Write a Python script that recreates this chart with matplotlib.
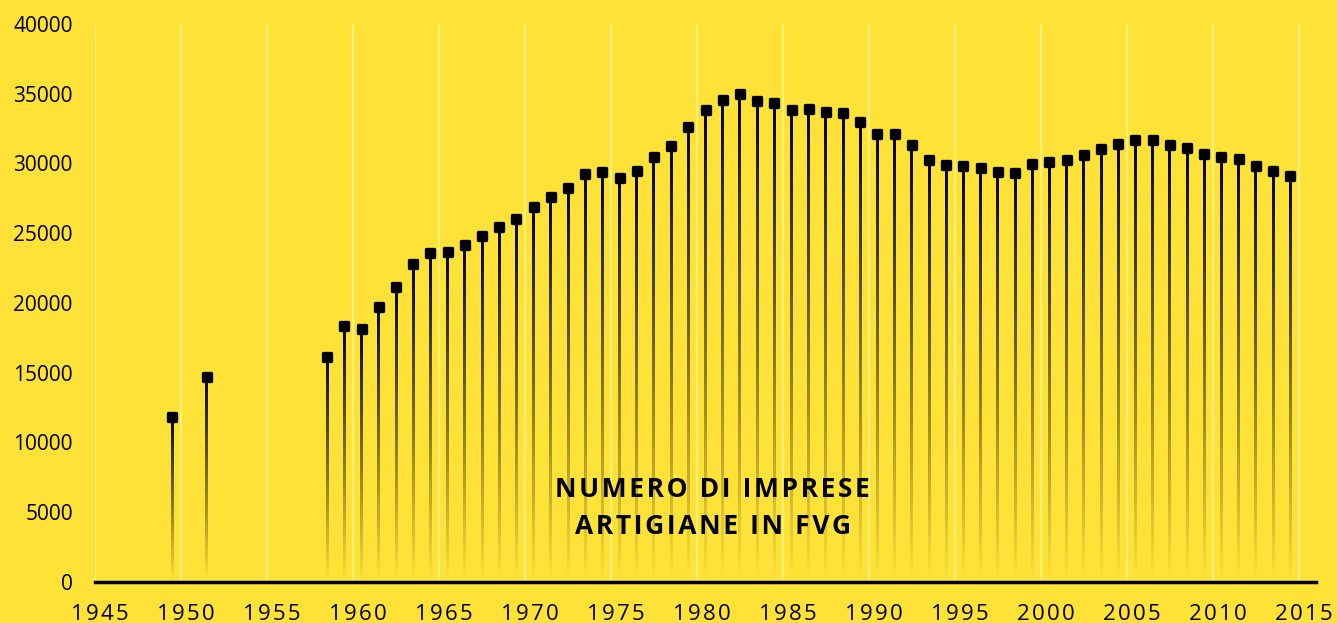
import matplotlib
matplotlib.use("Agg")
import matplotlib.pyplot as plt
from matplotlib.markers import MarkerStyle
from matplotlib.transforms import ScaledTranslation
import numpy as np

### data: artisan firms in FVG ###

years = [1949, 1951] + list(range(1958, 2015))
imprese = [11800, 14650,
           16150, 18350, 18120, 19690, 21160, 22780, 23570, 23670, 24130, 24800,
           25460, 26000, 26900, 27600, 28220, 29250, 29390, 28930, 29480, 30460,
           31250, 32590, 33830, 34570, 34980, 34460, 34310, 33810, 33900, 33690,
           33640, 32950, 32130, 32090, 31320, 30250, 29870, 29820, 29650, 29390,
           29310, 29980, 30100, 30270, 30630, 31040, 31420, 31700, 31680, 31300,
           31080, 30650, 30440, 30340, 29820, 29460, 29100]
x_ticks = list(range(1945, 2016, 5))
y_ticks = list(range(0, 40001, 5000))
title_lines = ["NUMERO DI IMPRESE", "ARTIGIANE IN FVG"]

bg = "#ffe238"
grid_col = "#fff07a"

plt.rcParams['font.family'] = ['Open Sans', 'DejaVu Sans']

def spaced(s, sp):
    # fake letter spacing
    return sp.join(s)

fig = plt.figure(figsize=(13.37, 6.23), dpi=100, facecolor=bg)
ax = fig.add_axes([0.0711, 0.0663, 0.9132, 0.8952], facecolor=bg)

# points sit in the middle of the year
xs = np.array(years) + 0.5
vals = np.array(imprese, dtype=float)

# gradient stems: black at top, fading out towards zero
grad = np.zeros((256, 1, 4))
grad[:, 0, 3] = np.linspace(0, 1, 256)
half_w = 0.085
for x, v in zip(xs, vals):
    ax.imshow(grad, extent=[x - half_w, x + half_w, 0, v], origin='lower',
              aspect='auto', interpolation='bilinear', zorder=3)

ax.plot(xs, vals, linestyle='none',
        marker=MarkerStyle('s', joinstyle='round'),
        markersize=5.8, markerfacecolor='black', markeredgecolor='black',
        markeredgewidth=2.4, zorder=4)

# vertical gridlines only
for g in x_ticks:
    ax.plot([g, g], [0, 40000], color=grid_col, linewidth=1.5, zorder=1)

ax.set_xlim(1945, 2016)
ax.set_ylim(0, 40000)
ax.set_xticks(x_ticks)
ax.set_xticklabels([spaced(str(t), "\u200a") for t in x_ticks])
ax.set_yticks(y_ticks)
ax.tick_params(axis='both', length=0, labelsize=15, colors='black')
ax.tick_params(axis='y', pad=16)
ax.tick_params(axis='x', pad=16, labelsize=16)

# x labels sit a little to the right of the gridlines
shift = ScaledTranslation(5 / 100, 0, fig.dpi_scale_trans)
for lab in ax.get_xticklabels():
    lab.set_transform(lab.get_transform() + shift)

for s in ['top', 'right', 'left']:
    ax.spines[s].set_visible(False)
ax.spines['bottom'].set_linewidth(2.5)
ax.spines['bottom'].set_zorder(5)

title = "\n".join(spaced(l, "\u200a") for l in title_lines)
ax.text(0.506, 0.132, title, transform=ax.transAxes, ha='center', va='center',
        fontsize=19, fontweight='bold', linespacing=1.45, zorder=6)

fig.savefig("out.png", dpi=100, facecolor=bg)
